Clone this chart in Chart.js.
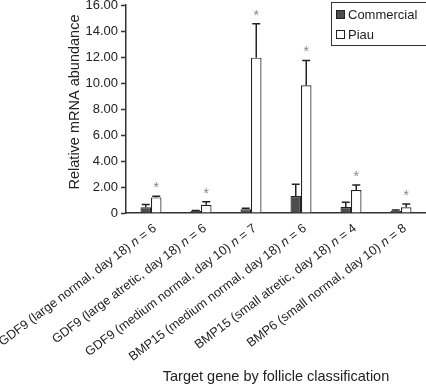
<!DOCTYPE html>
<html>
<head>
<meta charset="utf-8">
<script src="https://cdn.jsdelivr.net/npm/chart.js@4.4.0/dist/chart.umd.min.js"></script>
<style>
    html, body { margin: 0; padding: 0; background: #fff; }
    #wrap { width: 426px; height: 386px; }
</style>
</head>
<body>
<div id="wrap"><canvas id="chart"></canvas></div>
<script>
'use strict';

// Chart data
var categories = [
    'GDF9 (large normal, day 18)',
    'GDF9 (large atretic, day 18)',
    'GDF9 (medium normal, day 10)',
    'BMP15 (medium normal, day 18)',
    'BMP15 (small atretic, day 18)',
    'BMP6 (small normal, day 10)'
];
var sampleSizes     = [6, 6, 7, 6, 4, 8];
var seriesNames     = ['Commercial', 'Piau'];
var commercial      = [0.45, 0.15, 0.28, 1.31, 0.46, 0.15];
var commercialError = [0.20, 0.05, 0.08, 0.90, 0.36, 0.08];
var piau            = [1.20, 0.64, 11.95, 9.82, 1.77, 0.44];
var piauError       = [0.08, 0.23, 2.60, 1.92, 0.38, 0.25];
var piauSignificant = [true, true, true, true, true, true];
var yTicks          = [0, 2, 4, 6, 8, 10, 12, 14, 16];
var yTitle          = 'Relative mRNA abundance';

var FONT = 'Liberation Sans, Arial, sans-serif';
var LABEL_ANGLE = 37 * Math.PI / 180;

/**
 * Upper error whiskers plus the significance stars.
 */
var errorBarPlugin = {
    id: 'errorBars',
    afterDatasetsDraw: function(chart) {
        var ctx = chart.ctx;
        var yScale = chart.scales.y;
        var errors = [commercialError, piauError];

        ctx.save();
        ctx.strokeStyle = '#222';
        ctx.lineWidth = 1.5;
        for (var d = 0; d < chart.data.datasets.length; d++) {
            var meta = chart.getDatasetMeta(d);
            var values = chart.data.datasets[d].data;
            for (var i = 0; i < meta.data.length; i++) {
                var bar = meta.data[i];
                var top = yScale.getPixelForValue(values[i] + errors[d][i]);
                ctx.beginPath();
                ctx.moveTo(bar.x, bar.y);
                ctx.lineTo(bar.x, top);
                ctx.moveTo(bar.x - 4, top);
                ctx.lineTo(bar.x + 4, top);
                ctx.stroke();

                if (d === 1 && piauSignificant[i]) {
                    ctx.fillStyle = '#888';
                    ctx.font = '14px ' + FONT;
                    ctx.textAlign = 'center';
                    ctx.textBaseline = 'middle';
                    ctx.fillText('*', bar.x, top - 8);
                }
            }
        }
        ctx.restore();
    }
};

/**
 * Rotated category labels (italic "n") and the y axis title.
 */
var labelPlugin = {
    id: 'labels',
    afterDraw: function(chart) {
        var ctx = chart.ctx;
        var xScale = chart.scales.x;
        var normal = '12.7px ' + FONT;
        var italic = 'italic 12.7px ' + FONT;

        ctx.save();
        ctx.fillStyle = '#222';
        ctx.textBaseline = 'middle';
        ctx.textAlign = 'left';
        for (var i = 0; i < categories.length; i++) {
            var x = xScale.getPixelForValue(i);
            var tail = ' = ' + sampleSizes[i];
            var head = categories[i] + ' ';

            ctx.save();
            ctx.translate(x + 4, xScale.top + 14);
            ctx.rotate(-LABEL_ANGLE);

            ctx.font = normal;
            var wTail = ctx.measureText(tail).width;
            var wHead = ctx.measureText(head).width;
            ctx.font = italic;
            var wN = ctx.measureText('n').width;

            var pos = -(wTail + wN + wHead);
            ctx.font = normal;
            ctx.fillText(head, pos, 0);
            pos += wHead;
            ctx.font = italic;
            ctx.fillText('n', pos, 0);
            pos += wN;
            ctx.font = normal;
            ctx.fillText(tail, pos, 0);
            ctx.restore();
        }

        // y title sits a little above the plot middle in the figure
        ctx.save();
        ctx.translate(75, 102);
        ctx.rotate(-Math.PI / 2);
        ctx.font = '14.5px ' + FONT;
        ctx.textAlign = 'center';
        ctx.fillText(yTitle, 0, 0);
        ctx.restore();
        ctx.restore();
    }
};

/**
 * Boxed legend in the top right corner.
 */
var boxLegendPlugin = {
    id: 'boxLegend',
    afterDraw: function(chart) {
        var ctx = chart.ctx;
        var datasets = chart.data.datasets;

        ctx.save();
        ctx.strokeStyle = '#333';
        ctx.lineWidth = 1;
        ctx.strokeRect(331.5, 2.5, 100, 43);

        ctx.font = '13px ' + FONT;
        ctx.textBaseline = 'middle';
        ctx.textAlign = 'left';
        for (var i = 0; i < datasets.length; i++) {
            var y = 15 + i * 20;
            ctx.fillStyle = datasets[i].backgroundColor;
            ctx.fillRect(336.5, y - 4.5, 8, 8);
            ctx.strokeStyle = '#222';
            ctx.strokeRect(336.5, y - 4.5, 8, 8);
            ctx.fillStyle = '#222';
            ctx.fillText(datasets[i].label, 348, y);
        }
        ctx.restore();
    }
};

var config = {
    type: 'bar',
    data: {
        labels: categories,
        datasets: [
            {
                label: seriesNames[0],
                data: commercial,
                backgroundColor: '#4d4d4d',
                borderColor: '#222',
                borderWidth: 1.2
            },
            {
                label: seriesNames[1],
                data: piau,
                backgroundColor: '#ffffff',
                borderColor: '#222',
                borderWidth: 1.2
            }
        ]
    },
    options: {
        responsive: true,
        maintainAspectRatio: false,
        animation: false,
        layout: { padding: 0 },
        categoryPercentage: 0.42,
        barPercentage: 1.0,
        plugins: {
            legend: { display: false },
            tooltip: { enabled: false }
        },
        scales: {
            x: {
                grid: { display: false },
                border: { display: true, color: '#333', width: 1.5 },
                ticks: { display: false },
                title: {
                    display: true,
                    text: 'Target gene by follicle classification',
                    color: '#222',
                    font: { family: FONT, size: 14.5 },
                    padding: { top: 0, bottom: 0 }
                },
                afterFit: function(scale) { scale.height = 173; }
            },
            y: {
                min: 0,
                max: 16,
                afterBuildTicks: function(scale) {
                    scale.ticks = yTicks.map(function(v) { return { value: v }; });
                },
                grid: {
                    drawOnChartArea: false,
                    drawTicks: true,
                    tickLength: 5,
                    tickWidth: 1.5,
                    tickColor: '#333'
                },
                border: { display: true, color: '#333', width: 1.5 },
                ticks: {
                    padding: 3,
                    color: '#222',
                    font: { family: FONT, size: 13 },
                    callback: function(v) { return v === 0 ? '0' : v.toFixed(2); }
                },
                afterFit: function(scale) {
                    scale.width = 126;
                    scale.paddingTop = 5;
                    scale.paddingBottom = 0;
                }
            }
        }
    },
    plugins: [errorBarPlugin, labelPlugin, boxLegendPlugin]
};

var ctx = document.getElementById('chart').getContext('2d');
var chart = new Chart(ctx, config);
</script>
</body>
</html>
